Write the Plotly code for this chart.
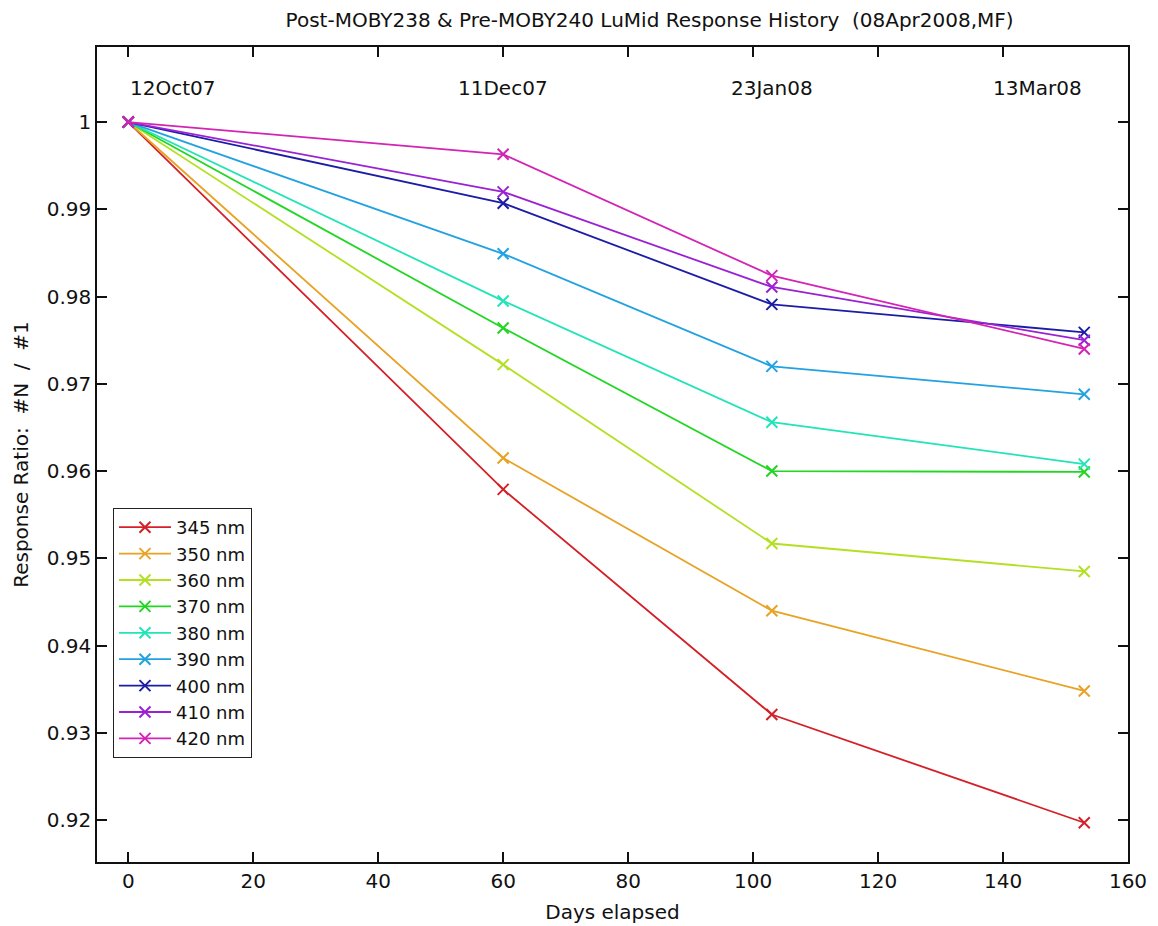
import plotly.graph_objects as go

days = [0, 60, 103, 153]
date_labels = ["12Oct07", "11Dec07", "23Jan08", "13Mar08"]
wavelengths = ["345 nm", "350 nm", "360 nm", "370 nm", "380 nm", "390 nm", "400 nm", "410 nm", "420 nm"]
r345 = [1.0, 0.9579, 0.9321, 0.9197]
r350 = [1.0, 0.9615, 0.9440, 0.9348]
r360 = [1.0, 0.9722, 0.9517, 0.9485]
r370 = [1.0, 0.9764, 0.9600, 0.9599]
r380 = [1.0, 0.9795, 0.9656, 0.9608]
r390 = [1.0, 0.9849, 0.9720, 0.9688]
r400 = [1.0, 0.9907, 0.9791, 0.9759]
r410 = [1.0, 0.9920, 0.9811, 0.9750]
r420 = [1.0, 0.9963, 0.9824, 0.9740]
series = [r345, r350, r360, r370, r380, r390, r400, r410, r420]
colors = ["#d42027", "#e8a224", "#b4e024", "#22d624", "#22e4b8", "#22a2e0", "#1c1ca6", "#9a22d4", "#d424b4"]
ytick_vals = [0.92, 0.93, 0.94, 0.95, 0.96, 0.97, 0.98, 0.99, 1.0]
ytick_text = ["0.92", "0.93", "0.94", "0.95", "0.96", "0.97", "0.98", "0.99", "1"]
xtick_vals = [0, 20, 40, 60, 80, 100, 120, 140, 160]

FONT = "DejaVu Sans, Verdana, sans-serif"

fig = go.Figure()
for name, vals, c in zip(wavelengths, series, colors):
    fig.add_trace(go.Scatter(
        x=days, y=vals, name=name, mode="lines+markers",
        line=dict(color=c, width=1.8),
        marker=dict(symbol="x-thin-open", size=11, line=dict(color=c, width=2)),
    ))

anchors = ["left", "center", "center", "right"]
for d, lab, a in zip(days, date_labels, anchors):
    fig.add_annotation(x=d, y=1.0039, text=lab, showarrow=False, xanchor=a,
                       yanchor="middle", font=dict(size=20, color="#111", family=FONT))

fig.update_layout(
    width=1158, height=926,
    margin=dict(l=87, r=38, t=39, b=72),
    paper_bgcolor="white", plot_bgcolor="white",
    font=dict(family=FONT, size=20, color="#111"),
    title=dict(text="Post-MOBY238 &amp; Pre-MOBY240 LuMid Response History  (08Apr2008,MF)",
               x=0.536, xref="paper", xanchor="center", y=0.987, yref="container",
               yanchor="middle", font=dict(size=20)),
    showlegend=True,
    legend=dict(x=0.0155, y=0.1276, xanchor="left", yanchor="bottom",
                bordercolor="#222", borderwidth=1, bgcolor="white",
                font=dict(size=18), tracegroupgap=0, itemwidth=52),
    xaxis=dict(range=[-5, 160], tickvals=xtick_vals, ticks="inside", ticklen=10,
               tickwidth=1.5, tickcolor="#111", showline=True, linecolor="#111",
               linewidth=1.5, mirror="ticks", showgrid=False, zeroline=False,
               title=dict(text="Days elapsed", standoff=13, font=dict(size=20)),
               tickfont=dict(size=20)),
    yaxis=dict(range=[0.9152, 1.0086], tickvals=ytick_vals, ticktext=ytick_text,
               ticks="inside", ticklen=10, tickwidth=1.5, tickcolor="#111",
               showline=True, linecolor="#111", linewidth=1.5, mirror="ticks",
               showgrid=False, zeroline=False,
               title=dict(text="Response Ratio:  #N  /  #1", standoff=13, font=dict(size=20)),
               tickfont=dict(size=20)),
)

fig.write_html("out.html")
